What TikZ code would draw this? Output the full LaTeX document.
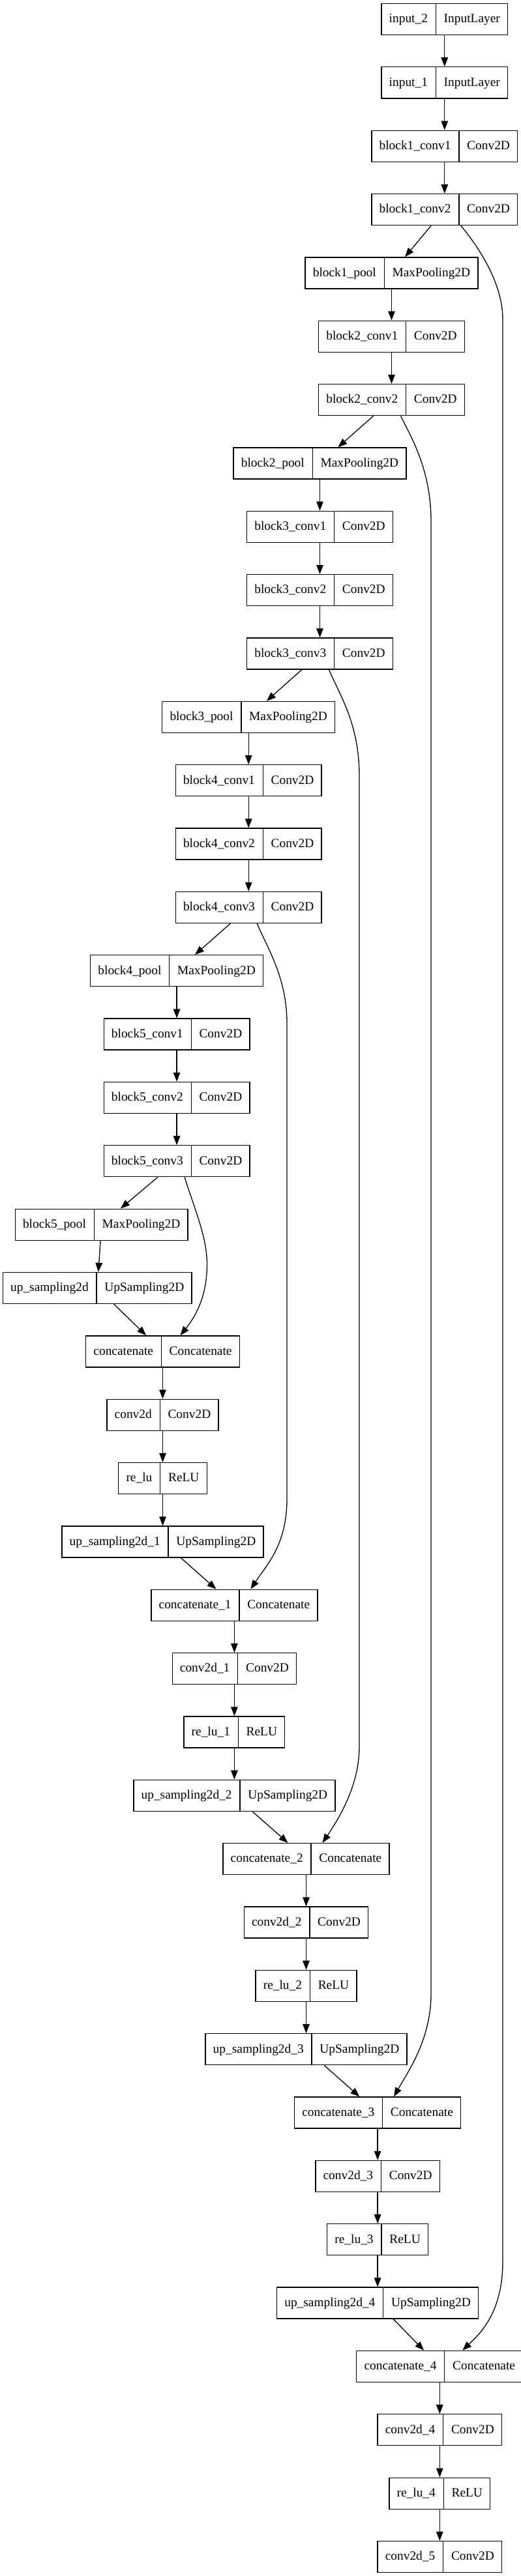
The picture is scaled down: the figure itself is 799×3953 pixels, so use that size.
\documentclass[tikz,border=0pt]{standalone}
\usepackage{fontspec}
\setmainfont{Liberation Serif}
\usetikzlibrary{shapes.multipart,arrows.meta,calc}
\newcommand{\cellstrut}{\rule[-8.7pt]{0pt}{28pt}}
\newcommand{\lyr}[2]{#1\cellstrut\nodepart{two}#2\cellstrut}
\tikzset{
  layer/.style={draw, rectangle split, rectangle split horizontal,
    rectangle split parts=2, inner xsep=11.7pt, inner ysep=10pt,
    line width=1.3pt, font=\fontsize{19.4}{23}\selectfont},
  edge/.style={line width=1.3pt, -{Triangle[length=14pt,width=10.5pt]}}
}
\begin{document}
\begin{tikzpicture}[x=1pt,y=1pt]
\useasboundingbox (0,0) rectangle (799,-3953);
\node[layer] (in2)    at (681.8,-29.5)   {\lyr{input\_2}{InputLayer}};
\node[layer] (in1)    at (681.8,-126.85) {\lyr{input\_1}{InputLayer}};
\node[layer] (b1c1)   at (681.8,-224.2)  {\lyr{block1\_conv1}{Conv2D}};
\node[layer] (b1c2)   at (681.8,-321.55) {\lyr{block1\_conv2}{Conv2D}};
\node[layer] (b1pool) at (600.5,-418.9)  {\lyr{block1\_pool}{MaxPooling2D}};
\node[layer] (b2c1)   at (600.5,-516.25) {\lyr{block2\_conv1}{Conv2D}};
\node[layer] (b2c2)   at (600.5,-613.6)  {\lyr{block2\_conv2}{Conv2D}};
\node[layer] (b2pool) at (490.5,-710.95) {\lyr{block2\_pool}{MaxPooling2D}};
\node[layer] (b3c1)   at (490.5,-808.3)  {\lyr{block3\_conv1}{Conv2D}};
\node[layer] (b3c2)   at (490.5,-905.65) {\lyr{block3\_conv2}{Conv2D}};
\node[layer] (b3c3)   at (490.5,-1003)   {\lyr{block3\_conv3}{Conv2D}};
\node[layer] (b3pool) at (381.2,-1100.35) {\lyr{block3\_pool}{MaxPooling2D}};
\node[layer] (b4c1)   at (381.2,-1197.7)  {\lyr{block4\_conv1}{Conv2D}};
\node[layer] (b4c2)   at (381.2,-1295.05) {\lyr{block4\_conv2}{Conv2D}};
\node[layer] (b4c3)   at (381.2,-1392.4)  {\lyr{block4\_conv3}{Conv2D}};
\node[layer] (b4pool) at (271.1,-1489.75) {\lyr{block4\_pool}{MaxPooling2D}};
\node[layer] (b5c1)   at (271.1,-1587.1)  {\lyr{block5\_conv1}{Conv2D}};
\node[layer] (b5c2)   at (271.1,-1684.45) {\lyr{block5\_conv2}{Conv2D}};
\node[layer] (b5c3)   at (271.1,-1781.8)  {\lyr{block5\_conv3}{Conv2D}};
\node[layer] (b5pool) at (155.7,-1879.15) {\lyr{block5\_pool}{MaxPooling2D}};
\node[layer] (up)     at (149.2,-1976.5)  {\lyr{up\_sampling2d}{UpSampling2D}};
\node[layer] (cat)    at (249.5,-2073.85) {\lyr{concatenate}{Concatenate}};
\node[layer] (conv)   at (249.5,-2171.2)  {\lyr{conv2d}{Conv2D}};
\node[layer] (relu)   at (249.5,-2268.55) {\lyr{re\_lu}{ReLU}};
\node[layer] (up1)    at (249.5,-2365.9)  {\lyr{up\_sampling2d\_1}{UpSampling2D}};
\node[layer] (cat1)   at (359.4,-2463.25) {\lyr{concatenate\_1}{Concatenate}};
\node[layer] (conv1)  at (359.4,-2560.6)  {\lyr{conv2d\_1}{Conv2D}};
\node[layer] (relu1)  at (359.4,-2657.95) {\lyr{re\_lu\_1}{ReLU}};
\node[layer] (up2)    at (359.4,-2755.3)  {\lyr{up\_sampling2d\_2}{UpSampling2D}};
\node[layer] (cat2)   at (469.5,-2852.65) {\lyr{concatenate\_2}{Concatenate}};
\node[layer] (conv2)  at (469.5,-2950)    {\lyr{conv2d\_2}{Conv2D}};
\node[layer] (relu2)  at (469.5,-3047.35) {\lyr{re\_lu\_2}{ReLU}};
\node[layer] (up3)    at (469.5,-3144.7)  {\lyr{up\_sampling2d\_3}{UpSampling2D}};
\node[layer] (cat3)   at (579.1,-3242.05) {\lyr{concatenate\_3}{Concatenate}};
\node[layer] (conv3)  at (579.1,-3339.4)  {\lyr{conv2d\_3}{Conv2D}};
\node[layer] (relu3)  at (579.1,-3436.75) {\lyr{re\_lu\_3}{ReLU}};
\node[layer] (up4)    at (579.1,-3534.1)  {\lyr{up\_sampling2d\_4}{UpSampling2D}};
\node[layer] (cat4)   at (674.3,-3631.45) {\lyr{concatenate\_4}{Concatenate}};
\node[layer] (conv4)  at (674.3,-3728.8)  {\lyr{conv2d\_4}{Conv2D}};
\node[layer] (relu4)  at (674.3,-3826.15) {\lyr{re\_lu\_4}{ReLU}};
\node[layer] (conv5)  at (674.3,-3923.5)  {\lyr{conv2d\_5}{Conv2D}};
\draw[edge] (in2) -- (in1);
\draw[edge] (in1) -- (b1c1);
\draw[edge] (b1c1) -- (b1c2);
\draw[edge] (b1c2) -- (b1pool);
\draw[edge] (b1pool) -- (b2c1);
\draw[edge] (b2c1) -- (b2c2);
\draw[edge] (b2c2) -- (b2pool);
\draw[edge] (b2pool) -- (b3c1);
\draw[edge] (b3c1) -- (b3c2);
\draw[edge] (b3c2) -- (b3c3);
\draw[edge] (b3c3) -- (b3pool);
\draw[edge] (b3pool) -- (b4c1);
\draw[edge] (b4c1) -- (b4c2);
\draw[edge] (b4c2) -- (b4c3);
\draw[edge] (b4c3) -- (b4pool);
\draw[edge] (b4pool) -- (b5c1);
\draw[edge] (b5c1) -- (b5c2);
\draw[edge] (b5c2) -- (b5c3);
\draw[edge] (b5c3) -- (b5pool);
\draw[edge] (b5pool) -- (up);
\draw[edge] (up) -- (cat);
\draw[edge] (cat) -- (conv);
\draw[edge] (conv) -- (relu);
\draw[edge] (relu) -- (up1);
\draw[edge] (up1) -- (cat1);
\draw[edge] (cat1) -- (conv1);
\draw[edge] (conv1) -- (relu1);
\draw[edge] (relu1) -- (up2);
\draw[edge] (up2) -- (cat2);
\draw[edge] (cat2) -- (conv2);
\draw[edge] (conv2) -- (relu2);
\draw[edge] (relu2) -- (up3);
\draw[edge] (up3) -- (cat3);
\draw[edge] (cat3) -- (conv3);
\draw[edge] (conv3) -- (relu3);
\draw[edge] (relu3) -- (up4);
\draw[edge] (up4) -- (cat4);
\draw[edge] (cat4) -- (conv4);
\draw[edge] (conv4) -- (relu4);
\draw[edge] (relu4) -- (conv5);
% skip connections
\draw[edge] ($(b1c2.south)+(25,0)$) .. controls (728,-372) and (771,-430) .. (771,-490)
  -- (771,-3470) .. controls (771,-3550) and (735,-3582) .. ($(cat4.north)+(35,0)$);
\draw[edge] ($(b2c2.south)+(14,0)$) .. controls (630,-670) and (661,-720) .. (661,-800)
  -- (661,-3060) .. controls (661,-3130) and (625,-3180) .. ($(cat3.north)+(25,0)$);
\draw[edge] ($(b3c3.south)+(14,0)$) .. controls (520,-1065) and (551,-1110) .. (551,-1190)
  -- (551,-2680) .. controls (551,-2740) and (520,-2790) .. ($(cat2.north)+(25,0)$);
\draw[edge] ($(b4c3.south)+(13,0)$) .. controls (410,-1455) and (440,-1500) .. (440,-1570)
  -- (440,-2300) .. controls (440,-2370) and (410,-2400) .. ($(cat1.north)+(25,0)$);
\draw[edge] ($(b5c3.south)+(12,0)$) .. controls (300,-1860) and (318,-1900) .. (317.5,-1942)
  .. controls (317,-1990) and (300,-2020) .. ($(cat.north)+(27,0)$);
\end{tikzpicture}
\end{document}
